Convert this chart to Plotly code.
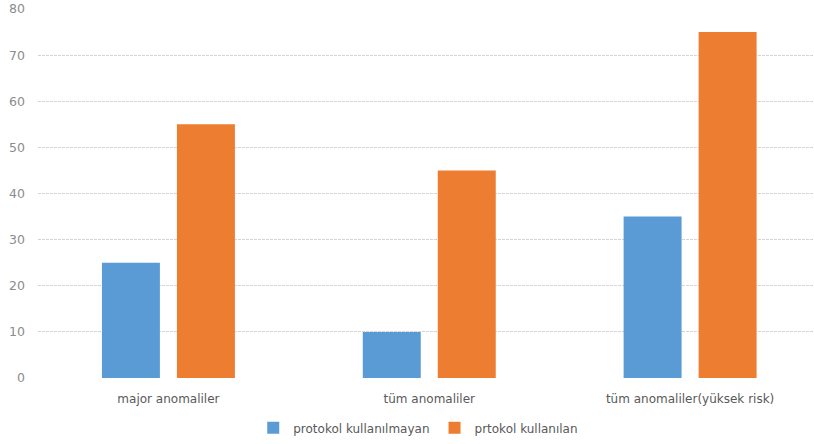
import plotly.graph_objects as go

categories = ["major anomaliler", "tüm anomaliler", "tüm anomaliler(yüksek risk)"]
series_names = ["protokol kullanılmayan", "prtokol kullanılan"]
protokol_yok = [25, 10, 35]
protokol_var = [55, 45, 75]
y_ticks = [0, 10, 20, 30, 40, 50, 60, 70, 80]

colors = ["#5B9BD5", "#ED7D31"]
font_family = "'DejaVu Sans', sans-serif"

fig = go.Figure()
for name, vals, col in zip(series_names, [protokol_yok, protokol_var], colors):
    fig.add_trace(go.Bar(
        x=categories, y=vals, name=name,
        marker=dict(color=col, line=dict(width=0)),
    ))

fig.update_layout(
    width=814, height=444,
    margin=dict(l=38, r=0, t=9, b=66),
    paper_bgcolor="white", plot_bgcolor="white",
    barmode="group", bargap=0.425, bargroupgap=0.227,
    font=dict(family=font_family, size=12, color="#595959"),
    showlegend=True,
    legend=dict(
        orientation="h", x=0.49, xanchor="center", y=-0.135, yanchor="middle",
        font=dict(size=12, color="#595959"), itemwidth=30,
        tracegroupgap=0,
    ),
    xaxis=dict(
        range=[-0.5, 2.475], showgrid=False, zeroline=False,
        showline=False, ticks="", tickfont=dict(size=12, color="#595959"),
        ticklabelstandoff=12,
    ),
    yaxis=dict(
        range=[0, 80], tickvals=y_ticks, showgrid=True,
        gridcolor="#D4D4D4", griddash="3px,1px", gridwidth=1,
        zeroline=False, showline=False, ticks="",
        tickfont=dict(size=12.5, color="#8C8C8C"), ticklabelstandoff=12,
    ),
)

fig.write_html("out.html")
